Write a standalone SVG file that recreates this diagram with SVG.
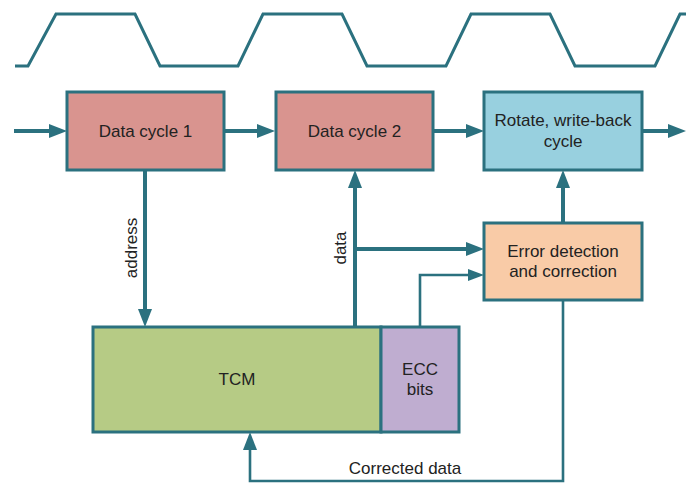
<svg xmlns="http://www.w3.org/2000/svg" width="686" height="483" viewBox="0 0 686 483">
  <style>
    .box { stroke: #2b717f; stroke-width: 3; }
    .lbl { font-family: "Liberation Sans", Arial, sans-serif; font-size: 17px; fill: #222; text-anchor: middle; }
    .wire { fill: none; stroke: #2b717f; stroke-width: 4; }
    .thin { fill: none; stroke: #2b717f; stroke-width: 2.6; }
  </style>
  <defs>
    <marker id="arrow" markerUnits="userSpaceOnUse" markerWidth="20" markerHeight="16" refX="10" refY="7" orient="auto">
      <path d="M0,0 L18,7 L0,14 z" fill="#2b717f"/>
    </marker>
    <marker id="arrowSmall" markerUnits="userSpaceOnUse" markerWidth="18" markerHeight="14" refX="9" refY="6" orient="auto">
      <path d="M0,0 L16,6 L0,12 z" fill="#2b717f"/>
    </marker>
  </defs>

  <!-- clock waveform -->
  <polyline fill="none" stroke="#2b717f" stroke-width="3" points="15,66 28,66 56,14 135,14 160,66 238,66 263,14 342,14 367,66 446,66 471,14 550,14 575,66 655,66 680,14 690,14"/>

  <g id="connectors">
    <line class="wire" x1="14" y1="131" x2="59" y2="131" marker-end="url(#arrow)"/>
    <line class="wire" x1="224" y1="131" x2="267" y2="131" marker-end="url(#arrow)"/>
    <line class="wire" x1="433" y1="131" x2="476" y2="131" marker-end="url(#arrow)"/>
    <line class="wire" x1="642" y1="131" x2="678" y2="131" marker-end="url(#arrow)"/>
    <!-- address -->
    <line class="wire" x1="145" y1="170" x2="145" y2="319" marker-end="url(#arrow)"/>
    <!-- data up to cycle 2 -->
    <line class="wire" x1="355" y1="327" x2="355" y2="178" marker-end="url(#arrow)"/>
    <!-- data branch to error detection -->
    <line class="wire" x1="353" y1="249" x2="476" y2="249" marker-end="url(#arrow)"/>
    <!-- ECC bits to error detection -->
    <polyline class="thin" points="420,327 420,275 477,275" marker-end="url(#arrowSmall)"/>
    <!-- error detection to write-back -->
    <line class="wire" x1="563" y1="223" x2="563" y2="178" marker-end="url(#arrow)"/>
    <!-- corrected data back to TCM -->
    <polyline class="thin" points="563,300 563,481 250,481 250,440" marker-end="url(#arrow)"/>
  </g>

  <text class="lbl" transform="translate(137,248) rotate(-90)">address</text>
  <text class="lbl" transform="translate(346,248) rotate(-90)">data</text>
  <text class="lbl" x="405" y="474">Corrected data</text>

  <g id="dc1">
    <rect class="box" x="67" y="92" width="157" height="78" fill="#d9948f"/>
    <text class="lbl" x="145.5" y="137">Data cycle 1</text>
  </g>
  <g id="dc2">
    <rect class="box" x="276" y="92" width="157" height="78" fill="#d9948f"/>
    <text class="lbl" x="354.5" y="137">Data cycle 2</text>
  </g>
  <g id="wb">
    <rect class="box" x="484" y="92" width="158" height="78" fill="#98d0df"/>
    <text class="lbl" x="563" y="126">Rotate, write-back</text>
    <text class="lbl" x="563" y="147">cycle</text>
  </g>
  <g id="edc">
    <rect class="box" x="484" y="223" width="158" height="77" fill="#f9cba7"/>
    <text class="lbl" x="563" y="257">Error detection</text>
    <text class="lbl" x="563" y="277">and correction</text>
  </g>
  <g id="tcm">
    <rect class="box" x="93" y="327" width="288" height="105" fill="#b6cb85"/>
    <text class="lbl" x="237" y="385">TCM</text>
  </g>
  <g id="ecc">
    <rect class="box" x="381" y="327" width="78" height="105" fill="#bfadd0"/>
    <text class="lbl" x="420" y="375">ECC</text>
    <text class="lbl" x="420" y="395">bits</text>
  </g>
</svg>
